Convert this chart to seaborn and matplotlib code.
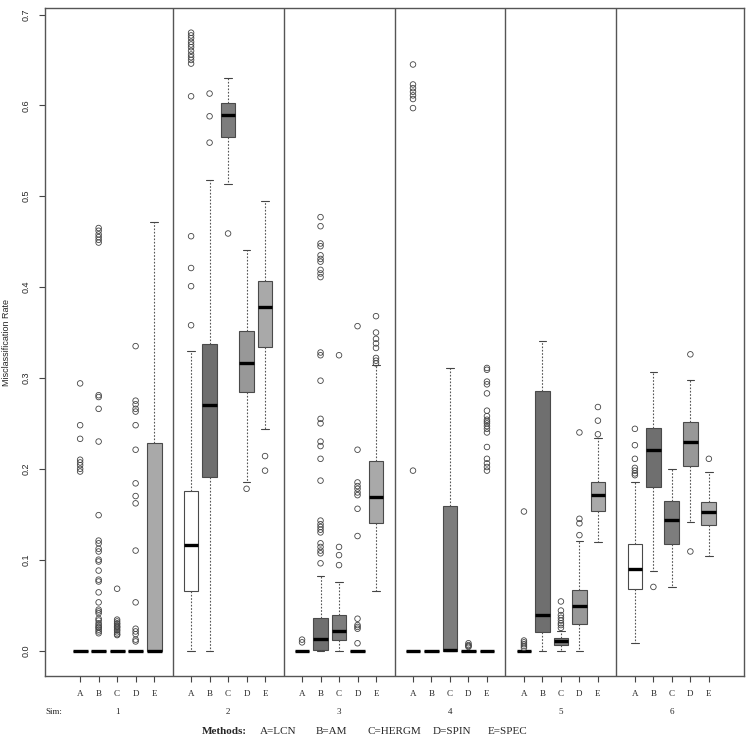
import numpy as np
import pandas as pd
import matplotlib
matplotlib.use("Agg")
import matplotlib.pyplot as plt
import matplotlib.transforms as mtransforms
import seaborn as sns

# ---------------------------------------------------------------
# data: six simulation settings x five methods
# ---------------------------------------------------------------
METHODS = ["A", "B", "C", "D", "E"]
SIMS = ["1", "2", "3", "4", "5", "6"]
METHOD_NAMES = ["A=LCN", "B=AM", "C=HERGM", "D=SPIN", "E=SPEC"]
BOX_COLORS = ["#ffffff", "#6f6f6f", "#7d7d7d", "#989898", "#a9a9a9"]

# box statistics, ordered sim 1..6, each with methods A..E
Q1 = [0.000, 0.000, 0.000, 0.000, 0.000,
      0.066, 0.191, 0.565, 0.284, 0.334,
      0.000, 0.001, 0.012, 0.000, 0.140,
      0.000, 0.000, 0.000, 0.000, 0.000,
      0.000, 0.020, 0.006, 0.029, 0.154,
      0.068, 0.180, 0.117, 0.203, 0.138]
MED = [0.000, 0.000, 0.000, 0.000, 0.000,
       0.116, 0.270, 0.589, 0.316, 0.378,
       0.000, 0.013, 0.022, 0.000, 0.169,
       0.000, 0.000, 0.001, 0.000, 0.000,
       0.000, 0.039, 0.010, 0.049, 0.171,
       0.090, 0.221, 0.144, 0.229, 0.152]
Q3 = [0.000, 0.000, 0.000, 0.000, 0.228,
      0.176, 0.337, 0.603, 0.352, 0.407,
      0.000, 0.036, 0.039, 0.000, 0.209,
      0.000, 0.000, 0.159, 0.000, 0.000,
      0.000, 0.286, 0.014, 0.067, 0.186,
      0.117, 0.245, 0.165, 0.251, 0.164]
WHISK_LO = [0.000, 0.000, 0.000, 0.000, 0.000,
            0.000, 0.000, 0.513, 0.185, 0.244,
            0.000, 0.000, 0.000, 0.000, 0.066,
            0.000, 0.000, 0.000, 0.000, 0.000,
            0.000, 0.000, 0.000, 0.000, 0.119,
            0.008, 0.087, 0.070, 0.141, 0.104]
WHISK_HI = [0.000, 0.000, 0.000, 0.000, 0.472,
            0.330, 0.518, 0.630, 0.441, 0.495,
            0.000, 0.082, 0.075, 0.000, 0.314,
            0.000, 0.000, 0.311, 0.000, 0.000,
            0.000, 0.341, 0.022, 0.121, 0.234,
            0.185, 0.306, 0.200, 0.298, 0.196]

# outliers, one list per method
FLIERS_SIM1 = [
    [0.294, 0.248, 0.233, 0.210, 0.207, 0.204, 0.200, 0.197],
    [0.465, 0.462, 0.458, 0.455, 0.452, 0.449, 0.281, 0.279, 0.266, 0.230,
     0.149, 0.121, 0.118, 0.112, 0.109, 0.100, 0.098, 0.088, 0.078, 0.076,
     0.064, 0.053, 0.045, 0.043, 0.041, 0.035, 0.033, 0.030, 0.028, 0.026,
     0.025, 0.023, 0.021, 0.019],
    [0.068, 0.034, 0.032, 0.030, 0.029, 0.027, 0.026, 0.025, 0.023, 0.022,
     0.020, 0.018, 0.017],
    [0.335, 0.275, 0.271, 0.266, 0.263, 0.248, 0.221, 0.184, 0.170, 0.162,
     0.110, 0.053, 0.024, 0.021, 0.018, 0.012, 0.010],
    [],
]
FLIERS_SIM2 = [
    [0.358, 0.401, 0.421, 0.456, 0.610, 0.646, 0.650, 0.653, 0.656, 0.660,
     0.664, 0.667, 0.670, 0.674, 0.677, 0.680],
    [0.559, 0.588, 0.613],
    [0.459],
    [0.178],
    [0.214, 0.198],
]
FLIERS_SIM3 = [
    [0.012, 0.009],
    [0.477, 0.467, 0.448, 0.445, 0.435, 0.431, 0.428, 0.419, 0.415, 0.411,
     0.328, 0.325, 0.297, 0.255, 0.250, 0.230, 0.225, 0.211, 0.187, 0.143,
     0.139, 0.136, 0.133, 0.130, 0.118, 0.114, 0.110, 0.107, 0.096],
    [0.325, 0.114, 0.105, 0.094],
    [0.357, 0.221, 0.185, 0.181, 0.178, 0.174, 0.171, 0.156, 0.126, 0.035,
     0.028, 0.026, 0.024, 0.008],
    [0.368, 0.350, 0.343, 0.338, 0.333, 0.322, 0.319, 0.316],
]
FLIERS_SIM4 = [
    [0.645, 0.623, 0.619, 0.615, 0.611, 0.607, 0.597, 0.198],
    [],
    [],
    [0.008, 0.006, 0.005, 0.004],
    [0.311, 0.309, 0.296, 0.293, 0.283, 0.264, 0.258, 0.254, 0.252, 0.250,
     0.247, 0.244, 0.240, 0.224, 0.211, 0.206, 0.202, 0.198],
]
FLIERS_SIM5 = [
    [0.153, 0.011, 0.009, 0.007, 0.005, 0.003],
    [],
    [0.054, 0.044, 0.039, 0.036, 0.033, 0.030, 0.028, 0.025],
    [0.240, 0.145, 0.140, 0.127],
    [0.268, 0.253, 0.238],
]
FLIERS_SIM6 = [
    [0.244, 0.226, 0.211, 0.201, 0.198, 0.195, 0.193],
    [0.070],
    [],
    [0.326, 0.109],
    [0.211],
]
FLIERS = [FLIERS_SIM1, FLIERS_SIM2, FLIERS_SIM3,
          FLIERS_SIM4, FLIERS_SIM5, FLIERS_SIM6]

SERIF = ["Liberation Serif", "DejaVu Serif"]
SANS = ["Liberation Sans", "DejaVu Sans"]


def main():
    sns.set_theme(style="white")
    plt.rcParams["font.family"] = SANS

    fig = plt.figure(figsize=(7.5, 7.42), dpi=100)
    ax = fig.add_axes([0.060, 0.089, 0.932, 0.900])

    # one empty slot between simulation groups, like R's boxplot with at=
    positions = []
    stats = []
    for s in range(len(SIMS)):
        for m in range(len(METHODS)):
            i = s * len(METHODS) + m
            positions.append(s * 6 + m + 1)
            stats.append(dict(med=MED[i], q1=Q1[i], q3=Q3[i],
                              whislo=WHISK_LO[i], whishi=WHISK_HI[i],
                              fliers=[]))

    bp = ax.bxp(
        stats,
        positions=positions,
        widths=0.8,
        capwidths=0.4,
        patch_artist=True,
        showfliers=False,
        boxprops=dict(edgecolor="#4a4a4a", linewidth=0.8),
        whiskerprops=dict(color="#555555", linewidth=0.8, linestyle=(0, (1.5, 1.5))),
        capprops=dict(color="#444444", linewidth=0.8),
        medianprops=dict(color="black", linewidth=2.4, solid_capstyle="butt"),
    )
    for k, patch in enumerate(bp["boxes"]):
        patch.set_facecolor(BOX_COLORS[k % len(METHODS)])

    # outliers as open circles
    rows = []
    for s, sim_fliers in enumerate(FLIERS):
        for m, vals in enumerate(sim_fliers):
            for v in vals:
                rows.append({"pos": s * 6 + m + 1, "rate": v})
    df_fliers = pd.DataFrame(rows)
    sns.scatterplot(data=df_fliers, x="pos", y="rate", marker="o", s=16,
                    facecolor="none", edgecolor="#444444", linewidth=0.6,
                    ax=ax, zorder=3)
    ax.collections[-1].set_facecolor("none")

    # vertical separators between simulations
    for s in range(1, len(SIMS)):
        ax.axvline(s * 6, color="#555555", linewidth=1.0)

    ax.set_xlim(-0.9, 36.9)
    ax.set_ylim(-0.028, 0.707)

    ax.set_xticks(positions)
    ax.set_xticklabels(METHODS * len(SIMS), fontsize=6.5, family=SERIF)
    ax.set_yticks(np.arange(0, 0.71, 0.1))
    ax.set_yticklabels([f"{v:.1f}" for v in np.arange(0, 0.71, 0.1)],
                       rotation=90, va="center", fontsize=6.5)
    ax.tick_params(axis="both", which="both", direction="out", length=4,
                   width=0.8, color="#444444", bottom=True, left=True,
                   pad=6)
    ax.set_xlabel("")
    ax.set_ylabel("Misclassification Rate", fontsize=6.5, labelpad=8)

    for sp in ax.spines.values():
        sp.set_color("#555555")
        sp.set_linewidth(1.0)

    # simulation numbers under each group
    trans = mtransforms.blended_transform_factory(ax.transData, fig.transFigure)
    ax.text(-0.9, 1 - 712 / 742, "Sim:", transform=trans, fontsize=6.5,
            family=SERIF, ha="left", va="center")
    for s, name in enumerate(SIMS):
        ax.text(s * 6 + 3, 1 - 712 / 742, name, transform=trans,
                fontsize=6.5, family=SERIF, ha="center", va="center")

    # method legend line
    fig.text(202 / 750, 1 - 732 / 742, "Methods:", fontsize=8,
             fontweight="bold", family=SERIF, ha="left", va="center")
    for x0, name in zip([260, 316, 367, 433, 488], METHOD_NAMES):
        fig.text(x0 / 750, 1 - 732 / 742, name, fontsize=8,
                 family=SERIF, ha="left", va="center")

    fig.savefig("out.png", dpi=100, facecolor="white")
    plt.close(fig)


if __name__ == "__main__":
    main()
